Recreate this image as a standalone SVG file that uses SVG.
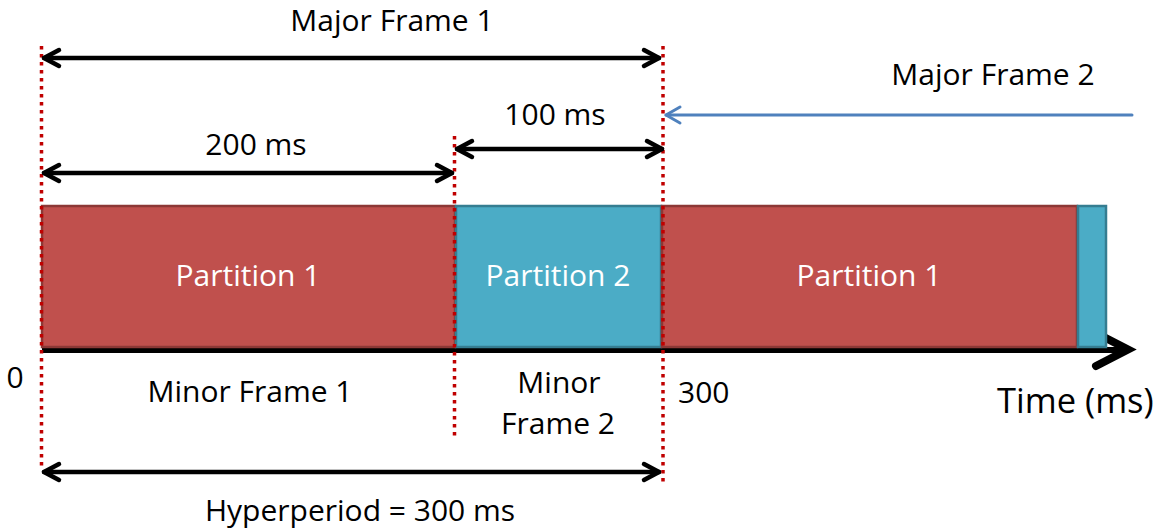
<svg xmlns="http://www.w3.org/2000/svg" width="1163" height="531" viewBox="0 0 1163 531">
<style>
text{font-family:"Open Sans","Liberation Sans",sans-serif;font-size:30px;fill:#000}
.w{fill:#fff}
.red{fill:#c0504d;stroke:#8c3836;stroke-width:2.5}
.blue{fill:#4bacc6;stroke:#357d91;stroke-width:2.5}
.dot{stroke:#c00000;stroke-width:3.5;stroke-dasharray:3.5 4.5;fill:none}
.arr{stroke:#000;stroke-width:4.5;fill:none;stroke-linecap:round;stroke-linejoin:round}
.barr{stroke:#4f81bd;stroke-width:3;fill:none;stroke-linecap:round;stroke-linejoin:round}
</style>
<rect width="1163" height="531" fill="#fff"/>
<g id="axis">
<line x1="42" y1="350" x2="1126" y2="350" stroke="#000" stroke-width="6"/>
<polyline points="1096,333 1128,349.5 1096,366" stroke="#000" stroke-width="8" fill="none" stroke-linecap="round" stroke-linejoin="miter"/>
</g>
<g id="partition1a"><rect class="red" x="42" y="206" width="413" height="141"/><text class="w" x="248" y="286" text-anchor="middle">Partition 1</text></g>
<g id="partition2a"><rect class="blue" x="456" y="206" width="205" height="141"/><text class="w" x="558" y="286" text-anchor="middle">Partition 2</text></g>
<g id="partition1b"><rect class="red" x="662" y="206" width="415" height="141"/><text class="w" x="869" y="286" text-anchor="middle">Partition 1</text></g>
<g id="partition2b"><rect class="blue" x="1078" y="206" width="28" height="141"/></g>
<g id="markers">
<line class="dot" x1="41.5" y1="46" x2="41.5" y2="468"/>
<line class="dot" x1="454.5" y1="136" x2="454.5" y2="436"/>
<line class="dot" x1="663" y1="46" x2="663" y2="484"/>
</g>
<g id="connectors">
<g id="major1-arrow"><line class="arr" x1="44" y1="58" x2="659" y2="58"/><polyline class="arr" points="59,50 44,58 59,66"/><polyline class="arr" points="644,50 659,58 644,66"/></g>
<g id="ms200-arrow"><line class="arr" x1="44" y1="173" x2="452" y2="173"/><polyline class="arr" points="59,165 44,173 59,181"/><polyline class="arr" points="437,165 452,173 437,181"/></g>
<g id="ms100-arrow"><line class="arr" x1="457" y1="149" x2="662" y2="149"/><polyline class="arr" points="472,141 457,149 472,157"/><polyline class="arr" points="647,141 662,149 647,157"/></g>
<g id="hyper-arrow"><line class="arr" x1="44" y1="472" x2="659" y2="472"/><polyline class="arr" points="59,464 44,472 59,480"/><polyline class="arr" points="644,464 659,472 644,480"/></g>
<g id="major2-arrow"><line class="barr" x1="666" y1="115" x2="1132" y2="115"/><polyline class="barr" points="680,107 666,115 680,123"/></g>
</g>
<g id="labels">
<text x="392" y="31" text-anchor="middle">Major Frame 1</text>
<text x="993" y="85" text-anchor="middle">Major Frame 2</text>
<text x="555" y="125" text-anchor="middle">100 ms</text>
<text x="256" y="155" text-anchor="middle">200 ms</text>
<text x="15" y="388" text-anchor="middle">0</text>
<text x="250" y="402" text-anchor="middle">Minor Frame 1</text>
<text x="559" y="393" text-anchor="middle">Minor</text>
<text x="558" y="434" text-anchor="middle">Frame 2</text>
<text x="678" y="403">300</text>
<text x="997" y="413" style="font-size:34.5px">Time (ms)</text>
<text x="360" y="521" text-anchor="middle">Hyperperiod = 300 ms</text>
</g>
</svg>
